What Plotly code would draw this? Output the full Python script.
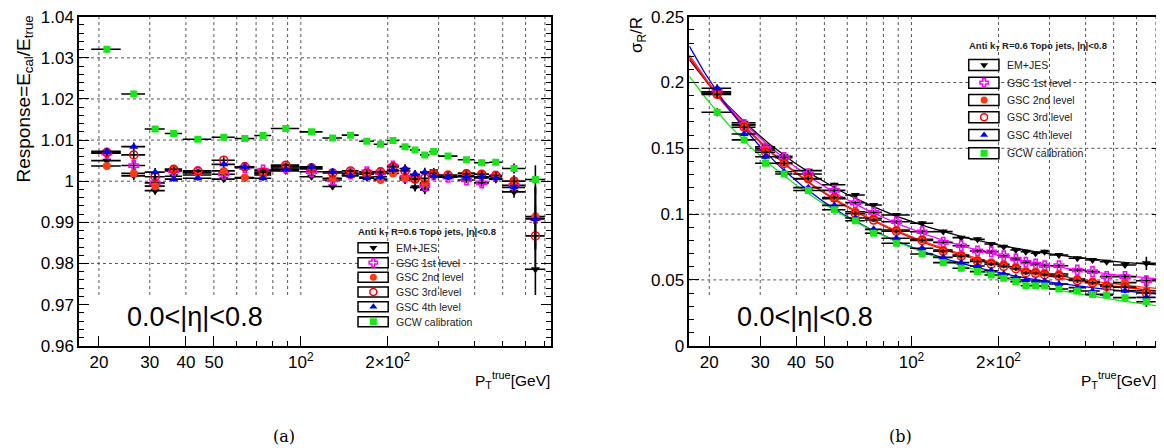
import numpy as np
import plotly.graph_objects as go

# pT bin means (GeV) and half bin widths
pt = [21.3, 26.4, 31.3, 36.3, 44.0, 54.1, 64.0, 74.0, 88.7, 108.9, 128.8, 148.6, 169.2,
      188.7, 208.5, 229.6, 248.6, 268.6, 288.6, 323.5, 374.4, 422.7, 472.9, 547.3, 648.8]
pt_half = [2.5, 2.5, 2.5, 2.5, 5, 5, 5, 5, 10, 10, 10, 10, 10,
           10, 10, 10, 10, 10, 10, 25, 25, 25, 25, 50, 50]

# (a) response
em_resp = [1.0050, 1.0013, 0.9977, 1.0012, 1.0015, 1.0005, 1.0007, 1.0018, 1.0025, 1.0011, 0.9987, 1.0015, 1.0010,
           1.0005, 1.0025, 1.0003, 0.9985, 0.9979, 1.0024, 1.0012, 1.0013, 1.0008, 1.0005, 0.9974, 0.9786]
gsc1_resp = [1.0068, 1.0038, 0.9996, 1.0025, 1.0022, 1.0017, 1.0033, 1.0027, 1.0032, 1.0023, 1.0003, 1.0018, 1.0023,
             1.0020, 1.0037, 1.0010, 1.0010, 0.9989, 1.0015, 1.0010, 1.0003, 0.9996, 1.0012, 0.9990, 0.9910]
gsc2_resp = [1.0037, 1.0019, 0.9988, 1.0029, 1.0020, 1.0025, 1.0009, 1.0015, 1.0035, 1.0030, 1.0007, 1.0020, 1.0017,
             1.0003, 1.0019, 1.0007, 1.0005, 0.9996, 1.0019, 1.0012, 1.0020, 1.0017, 1.0012, 1.0000, 0.9914]
gsc3_resp = [1.0070, 1.0064, 1.0011, 1.0029, 1.0025, 1.0051, 1.0035, 1.0022, 1.0039, 1.0033, 1.0020, 1.0025, 1.0020,
             1.0023, 1.0035, 1.0025, 1.0005, 1.0007, 1.0019, 1.0015, 1.0018, 1.0017, 1.0014, 1.0000, 0.9867]
gsc4_resp = [1.0073, 1.0084, 1.0022, 1.0005, 1.0007, 1.0041, 1.0035, 1.0007, 1.0029, 1.0035, 1.0023, 1.0013, 1.0007,
             1.0011, 1.0027, 1.0031, 1.0017, 1.0022, 1.0012, 1.0010, 1.0011, 1.0011, 1.0007, 0.9985, 0.9908]
gcw_resp = [1.0321, 1.0212, 1.0127, 1.0116, 1.0102, 1.0107, 1.0104, 1.0111, 1.0128, 1.0120, 1.0105, 1.0112, 1.0097,
            1.0090, 1.0099, 1.0084, 1.0076, 1.0064, 1.0072, 1.0061, 1.0052, 1.0045, 1.0046, 1.0031, 1.0004]
resp_err = [0.0008, 0.0010, 0.0010, 0.0006, 0.0005, 0.0007, 0.0007, 0.0006, 0.0006, 0.0007, 0.0008, 0.0006, 0.0007,
            0.0008, 0.0009, 0.0010, 0.0010, 0.0011, 0.0008, 0.0007, 0.0008, 0.0009, 0.0010, 0.0014, 0.0075]
em_resp_err = resp_err[:-1] + [0.0063]
gcw_resp_err = [0.0008, 0.0008, 0.0006, 0.0005, 0.0004, 0.0004, 0.0004, 0.0004, 0.0004, 0.0004, 0.0004, 0.0004, 0.0005,
                0.0005, 0.0005, 0.0006, 0.0006, 0.0006, 0.0007, 0.0006, 0.0006, 0.0007, 0.0008, 0.0012, 0.0035]

# (b) resolution
em_res = [0.1930, 0.1694, 0.1512, 0.1440, 0.1330, 0.1223, 0.1145, 0.1069, 0.0993, 0.0930, 0.0867, 0.0821, 0.0808,
          0.0773, 0.0752, 0.0727, 0.0714, 0.0702, 0.0714, 0.0689, 0.0664, 0.0651, 0.0638, 0.0613, 0.0626]
gsc1_res = [0.1930, 0.1680, 0.1500, 0.1429, 0.1305, 0.1180, 0.1087, 0.1013, 0.0942, 0.0866, 0.0785, 0.0760, 0.0720,
            0.0714, 0.0684, 0.0659, 0.0634, 0.0621, 0.0608, 0.0608, 0.0575, 0.0563, 0.0525, 0.0525, 0.0494]
gsc2_res = [0.1918, 0.1677, 0.1487, 0.1390, 0.1267, 0.1117, 0.1018, 0.0968, 0.0879, 0.0808, 0.0727, 0.0689, 0.0651,
            0.0634, 0.0618, 0.0600, 0.0568, 0.0563, 0.0555, 0.0545, 0.0507, 0.0487, 0.0461, 0.0479, 0.0418]
gsc3_res = [0.1910, 0.1660, 0.1470, 0.1385, 0.1270, 0.1125, 0.1005, 0.0955, 0.0870, 0.0800, 0.0718, 0.0680, 0.0640,
            0.0620, 0.0603, 0.0585, 0.0553, 0.0550, 0.0540, 0.0530, 0.0495, 0.0478, 0.0450, 0.0445, 0.0400]
gsc4_res = [0.1956, 0.1609, 0.1436, 0.1322, 0.1201, 0.1066, 0.0970, 0.0884, 0.0816, 0.0740, 0.0671, 0.0631, 0.0606,
            0.0570, 0.0545, 0.0519, 0.0499, 0.0492, 0.0492, 0.0469, 0.0441, 0.0416, 0.0390, 0.0418, 0.0367]
gcw_res = [0.1774, 0.1564, 0.1386, 0.1305, 0.1179, 0.1033, 0.0950, 0.0854, 0.0778, 0.0697, 0.0631, 0.0588, 0.0563,
           0.0537, 0.0512, 0.0487, 0.0456, 0.0456, 0.0453, 0.0431, 0.0416, 0.0390, 0.0385, 0.0365, 0.0334]
res_err = [0.0030, 0.0020, 0.0020, 0.0020, 0.0015, 0.0015, 0.0015, 0.0015, 0.0015, 0.0015, 0.0015, 0.0015, 0.0015,
           0.0015, 0.0015, 0.0015, 0.0015, 0.0015, 0.0015, 0.0015, 0.0015, 0.0015, 0.0015, 0.0020, 0.0040]
em_res_err = res_err[:-1] + [0.0050]

labels = ["EM+JES", "GSC 1st level", "GSC 2nd level", "GSC 3rd level", "GSC 4th level", "GCW calibration"]
x_ticks = [20, 30, 40, 50, 100, 200]
x_ticktext = ["20", "30", "40", "50", "10<sup>2</sup>", "2×10<sup>2</sup>"]
x_minor = [60, 70, 80, 90, 300, 400, 500, 600, 700]
y_grid_a = [0.97, 0.98, 0.99, 1.00, 1.01, 1.02, 1.03]
y_grid_b = [0.05, 0.10, 0.15, 0.20]

styles = [
    dict(symbol="triangle-down", color="black", size=8),
    dict(symbol="cross-open", color="#ff00ff", size=8, line=dict(width=1.5, color="#ff00ff")),
    dict(symbol="circle", color="#ff3a10", size=8),
    dict(symbol="circle-open", color="#ff0000", size=8, line=dict(width=1.5, color="#ff0000")),
    dict(symbol="triangle-up", color="#0000ff", size=8),
    dict(symbol="square", color="#16e816", size=7),
]
line_colors = ["black", "#ff00ff", "#ff3a10", "#ff0000", "#0000ff", "#16e816"]

# page body has an 8px margin, so the figure is a bit smaller and shifted
OFF = 8
W, H = 1164 - OFF, 448 - OFF
FONT = "Liberation Sans, Arial, sans-serif"


def px_x(p):
    return (p - OFF) / W


def px_y(p):
    return 1 - (p - OFF) / H


xr = [np.log10(17.06), np.log10(733)]
yr_a = [0.96, 1.04]
yr_b = [0.0, 0.25]
dom_a = [px_x(79), px_x(550.7)]
dom_b = [px_x(689.3), px_x(1161.7)]
dom_y = [px_y(345.7), px_y(16.7)]
pave_top = 0.154  # fraction of plot height hidden by the eta label box

fig = go.Figure()


def points(x_ax, y_ax, ys, errs, st):
    fig.add_trace(go.Scatter(
        x=pt, y=ys, mode="markers", xaxis=x_ax, yaxis=y_ax, showlegend=False,
        marker=st,
        error_x=dict(type="data", array=pt_half, color="black", thickness=1.6, width=0),
        error_y=dict(type="data", array=errs, color="black", thickness=1.6, width=0)))


resp = [em_resp, gsc1_resp, gsc2_resp, gsc3_resp, gsc4_resp, gcw_resp]
resp_errs = [em_resp_err, resp_err, resp_err, resp_err, resp_err, gcw_resp_err]
for ys, e, st in zip(resp, resp_errs, styles):
    points("x", "y", ys, e, st)

# resolution fits: sigma^2 = N^2/x^2 + S^2/x + C^2
res = [em_res, gsc1_res, gsc2_res, gsc3_res, gsc4_res, gcw_res]
res_errs = [em_res_err, res_err, res_err, res_err, res_err, res_err]
xf = np.geomspace(17.06, 733, 200)
ptv = np.array(pt)
A = np.vstack([1 / ptv ** 2, 1 / ptv, np.ones_like(ptv)]).T
for ys, c in zip(res, line_colors):
    coef, *_ = np.linalg.lstsq(A, np.array(ys) ** 2, rcond=None)
    yf = np.sqrt(np.clip(coef[0] / xf ** 2 + coef[1] / xf + coef[2], 0, None))
    fig.add_trace(go.Scatter(x=xf, y=yf, mode="lines", xaxis="x2", yaxis="y2", showlegend=False,
                             line=dict(color=c, width=1.3), hoverinfo="skip"))
for ys, e, st in zip(res, res_errs, styles):
    points("x2", "y2", ys, e, st)


# legend keys: positions given as fractions of the plot area
def frac_x(f):
    return 10 ** (xr[0] + f * (xr[1] - xr[0]))


def frac_y(f, yr):
    return yr[0] + f * (yr[1] - yr[0])


key_x = 0.624
rows_a = [0.2979, 0.2523, 0.2079, 0.1632, 0.1185, 0.0729]
rows_b = [0.8532, 0.7994, 0.7468, 0.6942, 0.6404, 0.5848]
for i, st in enumerate(styles):
    s = dict(st)
    s["size"] = 7
    fig.add_trace(go.Scatter(x=[frac_x(key_x)], y=[frac_y(rows_a[i], yr_a)], mode="markers", xaxis="x",
                             yaxis="y", marker=s, showlegend=False, hoverinfo="skip"))
    fig.add_trace(go.Scatter(x=[frac_x(key_x)], y=[frac_y(rows_b[i], yr_b)], mode="markers", xaxis="x2",
                             yaxis="y2", marker=s, showlegend=False, hoverinfo="skip"))


def xaxis(dom, anchor):
    return dict(type="log", range=xr, domain=dom, anchor=anchor, tickvals=x_ticks, ticktext=x_ticktext,
                ticks="inside", ticklen=10, tickwidth=1, tickcolor="black", showline=True, linecolor="black",
                linewidth=1.5, mirror=True, tickfont=dict(size=17, family=FONT, color="black"),
                showgrid=False, zeroline=False, automargin=False, ticklabeloverflow="allow",
                minor=dict(tickmode="array", tickvals=x_minor, ticks="inside", ticklen=5, tickcolor="black"))


def yaxis(rng, dtick, mdt, anchor):
    return dict(range=rng, domain=dom_y, anchor=anchor, dtick=dtick, tick0=rng[0], ticks="inside", ticklen=10,
                tickwidth=1, tickcolor="black", showline=True, linecolor="black", linewidth=1.5, mirror="ticks",
                tickfont=dict(size=17, family=FONT, color="black"), zeroline=False, showgrid=False,
                automargin=False, ticklabeloverflow="allow",
                minor=dict(dtick=mdt, ticks="inside", ticklen=5, tickcolor="black", showgrid=False))


fig.update_layout(
    width=W, height=H, margin=dict(l=0, r=0, t=0, b=0, pad=0, autoexpand=False),
    paper_bgcolor="white", plot_bgcolor="white",
    font=dict(family=FONT, color="black"),
    xaxis=xaxis(dom_a, "y"), yaxis=yaxis(yr_a, 0.01, 0.002, "x"),
    xaxis2=xaxis(dom_b, "y2"), yaxis2=yaxis(yr_b, 0.05, 0.01, "x2"),
)

gl = dict(color="#555", width=1, dash="dot")
shapes = []
ann = []
panels = [("x", "y", rows_a, 0.0152, 0.3447, y_grid_a, yr_a), ("x2", "y2", rows_b, 0.0167, 0.9119, y_grid_b, yr_b)]
for xa, ya, rows, hh, head_y, ygrid, yr in panels:
    # grid, stopped above the label box
    for gx in x_ticks + x_minor:
        shapes.append(dict(type="line", xref=xa, yref=ya + " domain", x0=gx, x1=gx, y0=pave_top, y1=1,
                           line=gl, layer="below"))
    for gy in ygrid:
        if (gy - yr[0]) / (yr[1] - yr[0]) > pave_top:
            shapes.append(dict(type="line", xref=xa + " domain", yref=ya, x0=0, x1=1, y0=gy, y1=gy,
                               line=gl, layer="below"))
    for r, lab in zip(rows, labels):
        shapes.append(dict(type="rect", xref=xa + " domain", yref=ya + " domain", x0=0.5915, x1=0.6555,
                           y0=r - hh, y1=r + hh, fillcolor="white", line=dict(color="black", width=1.5),
                           layer="below"))
        ann.append(dict(text=lab, xref=xa + " domain", yref=ya + " domain", x=0.668, y=r, xanchor="left",
                        yanchor="middle", showarrow=False, font=dict(size=10.5, color="#222", family=FONT)))
    ann.append(dict(text="<b>Anti k<sub>T</sub> R=0.6 Topo jets, |η|<0.8</b>", xref=xa + " domain",
                    yref=ya + " domain", x=0.587, y=head_y, xanchor="left", yanchor="middle", showarrow=False,
                    font=dict(size=9.5, color="#222", family=FONT)))
    ann.append(dict(text="0.0<|η|<0.8", xref=xa + " domain", yref=ya + " domain", x=0.245, y=0.088,
                    xanchor="center", yanchor="middle", showarrow=False,
                    font=dict(size=27, color="black", family=FONT)))

ann += [
    dict(text="Response=E<sub>cal</sub>/E<sub>true</sub>", xref="paper", yref="paper", x=px_x(10),
         y=px_y(14), xanchor="left", yanchor="top", textangle=-90, showarrow=False,
         font=dict(size=19, family=FONT)),
    dict(text="σ<sub>R</sub>/R", xref="paper", yref="paper", x=px_x(625), y=px_y(15),
         xanchor="left", yanchor="top", textangle=-90, showarrow=False, font=dict(size=17, family=FONT)),
    dict(text="P<sub>T</sub><sup>true</sup>[GeV]", xref="paper", yref="paper", x=px_x(473), y=px_y(380),
         xanchor="left", yanchor="middle", showarrow=False, font=dict(size=15.5, family=FONT)),
    dict(text="P<sub>T</sub><sup>true</sup>[GeV]", xref="paper", yref="paper", x=px_x(1079), y=px_y(380),
         xanchor="left", yanchor="middle", showarrow=False, font=dict(size=15.5, family=FONT)),
    dict(text="(a)", xref="paper", yref="paper", x=px_x(284), y=px_y(436), xanchor="center",
         yanchor="middle", showarrow=False, font=dict(size=16, family="DejaVu Serif, serif")),
    dict(text="(b)", xref="paper", yref="paper", x=px_x(900), y=px_y(436), xanchor="center",
         yanchor="middle", showarrow=False, font=dict(size=16, family="DejaVu Serif, serif")),
]
fig.update_layout(shapes=shapes, annotations=ann)

fig.write_html("out.html")
